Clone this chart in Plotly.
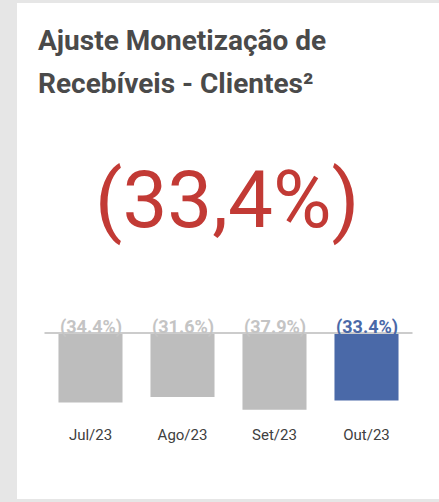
import plotly.graph_objects as go

categories = ["Jul/23", "Ago/23", "Set/23", "Out/23"]
values = [-34.4, -31.6, -37.9, -33.4]
labels = ["(34.4%)", "(31.6%)", "(37.9%)", "(33.4%)"]
bar_colors = ["#bdbdbd", "#bdbdbd", "#bdbdbd", "#4a69a8"]
label_colors = ["#c4c4c4", "#c4c4c4", "#c4c4c4", "#4a69a8"]
kpi_text = "(33,4%)"
title_lines = ["Ajuste Monetização de", "Recebíveis - Clientes²"]

W, H = 439, 502

fig = go.Figure()
fig.add_trace(go.Bar(
    x=categories, y=values, marker=dict(color=bar_colors, line=dict(width=0)),
    hoverinfo="skip", showlegend=False,
))

# card background
fig.add_shape(type="rect", xref="paper", yref="paper",
              x0=17 / W, x1=1.02, y0=(H - 499) / H, y1=(H - 3) / H,
              fillcolor="white", line=dict(width=0), layer="below")
# baseline
fig.add_shape(type="line", xref="x domain", yref="y",
              x0=0, x1=1, y0=0, y1=0,
              line=dict(color="#cccccc", width=2), layer="above")

for c, t, col in zip(categories, labels, label_colors):
    fig.add_annotation(x=c, y=0, xref="x", yref="y", text=f"<b>{t}</b>",
                       showarrow=False, yanchor="middle", yshift=6,
                       font=dict(family="Roboto", size=18, color=col))

fig.add_annotation(x=227 / W, y=(H - 200) / H, xref="paper", yref="paper",
                   text=kpi_text, showarrow=False, xanchor="center", yanchor="middle",
                   font=dict(family="Roboto", size=80, color="#c23a35"))

for i, line in enumerate(title_lines):
    fig.add_annotation(x=36 / W, y=(H - (40 + 44 * i)) / H, xref="paper", yref="paper",
                       text=f"<b>{line}</b>", showarrow=False, xanchor="left", yanchor="middle",
                       font=dict(family="Roboto", size=28, color="#4a4a4a"))

fig.update_layout(
    width=W, height=H, margin=dict(l=0, r=0, t=0, b=0),
    paper_bgcolor="#e6e6e6", plot_bgcolor="rgba(0,0,0,0)",
    bargap=0.304,
    xaxis=dict(domain=[44.5 / W, 412.5 / W], range=[-0.5, 3.5], showgrid=False,
               zeroline=False, showline=False, ticks="",
               tickfont=dict(family="Roboto", size=15, color="#404040")),
    yaxis=dict(domain=[(H - 424) / H, (H - 323) / H], range=[-45, 5], visible=False,
               showgrid=False, zeroline=False),
)

fig.write_html("out.html", config={"displayModeBar": False},
               post_script="document.body.style.margin='0';document.body.style.overflow='hidden';")
